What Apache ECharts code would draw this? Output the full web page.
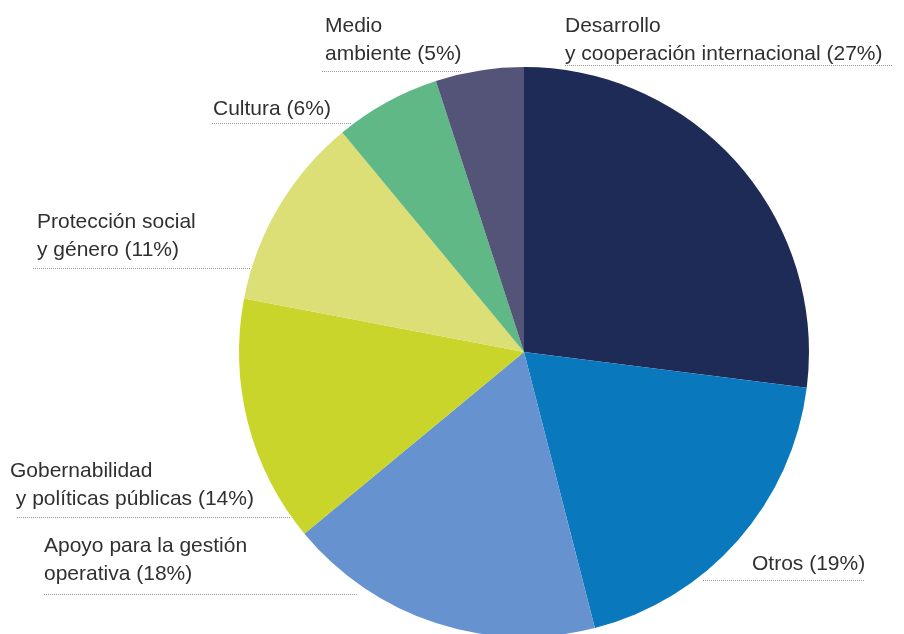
<!DOCTYPE html>
<html>
<head>
<meta charset="utf-8">
<script src="https://cdn.jsdelivr.net/npm/echarts@6/dist/echarts.min.js"></script>
<style>
  html, body { margin: 0; padding: 0; background: #ffffff; }
  #chart { width: 904px; height: 634px; }
</style>
</head>
<body>
<div id="chart"></div>
<script>
// Distribución por área (%), en sentido horario desde las 12
const categories = [
  'Desarrollo\ny cooperación internacional',
  'Otros',
  'Apoyo para la gestión\noperativa',
  'Gobernabilidad\n y políticas públicas',
  'Protección social\ny género',
  'Cultura',
  'Medio\nambiente'
];
const shares = [27, 19, 18, 14, 11, 6, 5];
const colors = ['#1f2b57', '#0a78bd', '#6692cf', '#c9d52a', '#dcdf76', '#5fb886', '#545478'];

// Label placement: text box top-left, plus the dotted rule under each label
const labelPlacement = [
  { x: 565, y: 12,  rule: [565, 892, 65] },
  { x: 752, y: 550, rule: [703, 865, 580] },
  { x: 44,  y: 532, rule: [44, 357, 594] },
  { x: 10,  y: 457, rule: [17, 291, 517] },
  { x: 37,  y: 208, rule: [33, 250, 268] },
  { x: 213, y: 95,  rule: [212, 352, 123] },
  { x: 325, y: 12,  rule: [322, 462, 71] }
];

const chart = echarts.init(document.getElementById('chart'), null, { renderer: 'canvas' });

chart.setOption({
  animation: false,
  backgroundColor: '#ffffff',
  series: [{
    type: 'pie',
    center: [524, 352],
    radius: [0, 285],
    startAngle: 90,
    clockwise: true,
    avoidLabelOverlap: false,
    emphasis: { disabled: true },
    itemStyle: { borderWidth: 0 },
    data: categories.map((name, i) => ({
      name: name,
      value: shares[i],
      itemStyle: { color: colors[i] }
    })),
    label: {
      show: true,
      position: 'outside',
      formatter: p => p.name + ' (' + p.value + '%)',
      fontFamily: 'Liberation Sans, Arial, sans-serif',
      fontSize: 21,
      lineHeight: 28,
      color: '#303030',
      align: 'left'
    },
    labelLine: {
      show: true,
      lineStyle: { color: '#9a9a9a', width: 1, type: [1, 1] }
    },
    labelLayout: function (params) {
      const p = labelPlacement[params.dataIndex];
      const r = p.rule;
      return {
        x: p.x,
        y: p.y,
        align: 'left',
        verticalAlign: 'top',
        labelLinePoints: [[r[0], r[2] + 0.5], [r[1], r[2] + 0.5], [r[1], r[2] + 0.5]]
      };
    }
  }]
});
</script>
</body>
</html>
